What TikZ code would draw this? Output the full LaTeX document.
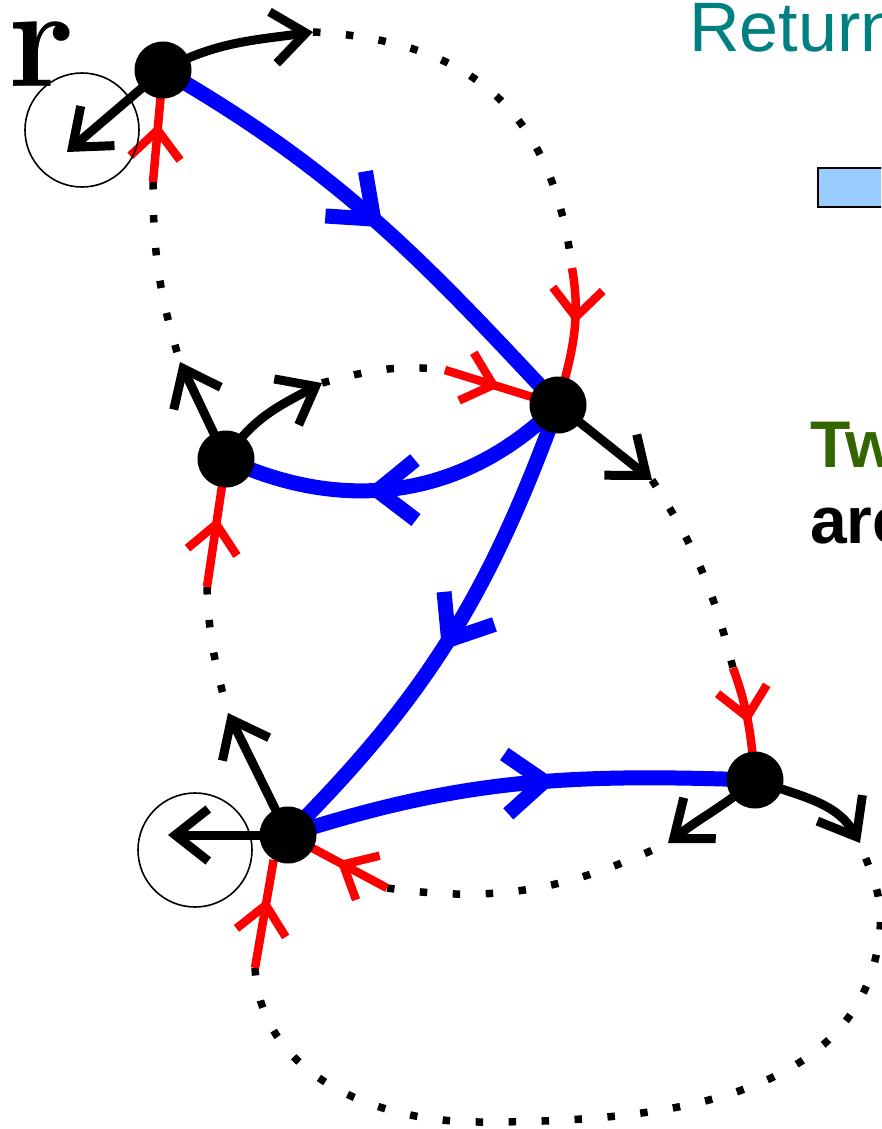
\documentclass[tikz,border=0pt]{standalone}
\usepackage{fontspec}
\newfontfamily\arialfont{Liberation Sans}
\usetikzlibrary{arrows.meta,decorations.markings}
\definecolor{tealc}{RGB}{0,128,128}
\definecolor{greenc}{RGB}{51,102,0}
\definecolor{boxblue}{RGB}{153,204,255}
\pgfdeclarelayer{bg}
\pgfsetlayers{bg,main}
\tikzset{
  dot/.style={circle, fill=black, minimum size=57pt, inner sep=0pt},
  ring/.style={circle, draw=black, line width=1.6pt, minimum size=114pt, inner sep=0pt},
  blueedge/.style={draw=blue, line width=15pt, postaction={decorate},
    decoration={markings, mark=at position #1 with {\arrow{Straight Barb[sharp,length=38pt,width=60pt,line width=15pt]}}}},
  rededge/.style={draw=red, line width=8.5pt, postaction={decorate},
    decoration={markings, mark=at position #1 with {\arrow{Straight Barb[sharp,length=28pt,width=50pt,line width=8.5pt]}}}},
  stub/.style={draw=black, line width=9pt, -{Straight Barb[sharp,length=33pt,width=52pt,line width=9pt]}},
  dotline/.style={draw=black, line width=7.5pt, dash pattern=on 7.5pt off 25.5pt},
  lbl/.style={anchor=base west, inner sep=0pt}
}
\begin{document}
\begin{tikzpicture}[x=1pt,y=1pt]
\useasboundingbox (0,0) rectangle (881,-1129);
\clip (0,0) rectangle (881,-1129);

% vertices
\node[dot] (A) at (163,-70) {};
\node[dot] (B) at (558,-405) {};
\node[dot] (C) at (226,-459) {};
\node[dot] (D) at (288,-835) {};
\node[dot] (E) at (755,-780) {};

% free ends
\coordinate (ta1) at (313,-32);
\coordinate (ta2) at (67,-152);
\coordinate (tb) at (652,-480);
\coordinate (tc1) at (180,-362);
\coordinate (tc2) at (322,-383);
\coordinate (td1) at (228,-713);
\coordinate (td2) at (168,-835);
\coordinate (te1) at (668,-843);
\coordinate (te2) at (860,-843);

\coordinate (ra) at (153,-182);
\coordinate (rb1) at (572,-268);
\coordinate (rb2) at (445,-370);
\coordinate (rc) at (207,-587);
\coordinate (rd1) at (255,-968);
\coordinate (rd2) at (387,-888);
\coordinate (re) at (733,-668);

% rings
\node[ring] (ringA) at (82,-130) {};
\node[ring] (ringD) at (195,-850) {};

\begin{pgfonlayer}{bg}
% dotted return paths
\draw[dotline] (ta1) to[out=-3,in=97,looseness=1.15] (rb1);
\draw[dotline] (ra) to[out=-90,in=107] (tc1);
\draw[dotline] (tc2) to[out=15,in=173] (rb2);
\draw[dotline] (tb) to[out=-57,in=104] (re);
\draw[dotline] (rc) to[out=-88,in=105] (td1);
\draw[dotline] (rd2) to[out=-8,in=205] (te1);
\draw[dotline] (rd1) to[out=-87,in=180] (480,-1122) to[out=0,in=-95] (880,-930) to[out=85,in=-70] (te2);

% tree edges
\draw[blueedge=0.52] (A.center) to[out=-30,in=133] (B.center);
\draw[blueedge=0.6] (B.center) to[out=-135,in=-25] (C.center);
\draw[blueedge=0.53] (B.center) to[out=-110,in=45] (D.center);
\draw[blueedge=0.58] (D.center) to[out=18,in=178] (E.center);

% incoming red arcs
\draw[rededge=0.52] (ra) -- (A.center);
\draw[rededge=0.40] (rb1) to[out=-80,in=75] (B.center);
\draw[rededge=0.48] (rb2) -- (B.center);
\draw[rededge=0.54] (rc) -- (C.center);
\draw[rededge=0.64] (rd1) -- (D.240);
\draw[rededge=0.5] (rd2) -- (D.center);
\draw[rededge=0.5] (re) to[out=-70,in=95] (E.center);

% outgoing black stubs
\draw[stub] (A.center) to[out=28,in=188] (ta1);
\draw[stub] (A.center) -- (ta2);
\draw[stub] (B.center) -- (tb);
\draw[stub] (C.center) -- (tc1);
\draw[stub] (C.center) to[out=58,in=208] (tc2);
\draw[stub] (D.center) -- (td1);
\draw[stub] (D.center) -- (td2);
\draw[stub] (E.center) to[out=-140,in=38] (te1);
\draw[stub] (E.center) to[out=-20,in=120] (te2);
\end{pgfonlayer}

% texts
\node[lbl] (r) at (8,-87) {\fontsize{144}{150}\selectfont\bfseries r};
\node[lbl, text=tealc] (ret) at (689,-52) {\arialfont\fontsize{70}{80}\selectfont Return};
\draw[fill=boxblue, draw=black, line width=2pt] (818,-168) rectangle (930,-207);
\node[lbl, text=greenc] (tw) at (810,-467) {\arialfont\bfseries\fontsize{66}{76}\selectfont Tw};
\node[lbl, text=black] (are) at (810,-543) {\arialfont\bfseries\fontsize{66}{76}\selectfont are};
\end{tikzpicture}
\end{document}
